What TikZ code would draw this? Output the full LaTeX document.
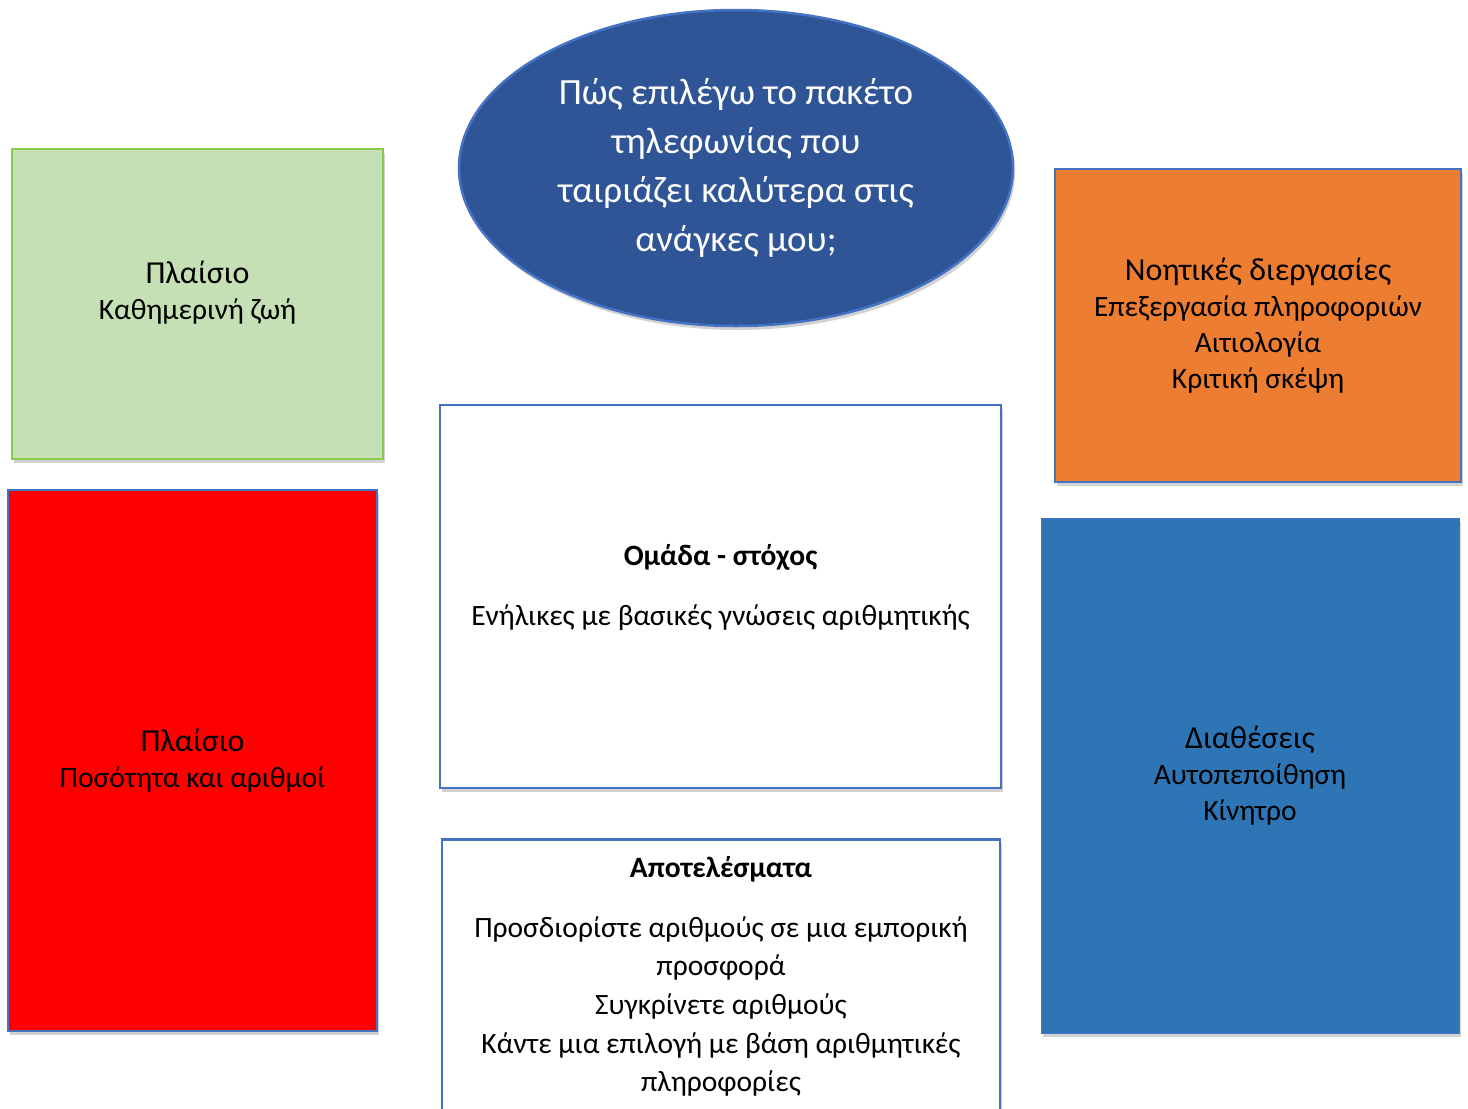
\documentclass[tikz,border=0pt]{standalone}
\usepackage{fontspec}
\setmainfont{Carlito}
\usepackage{tikz}
\usetikzlibrary{shapes.geometric, shadows, positioning}
\definecolor{edgeblue}{HTML}{4472C4}
\definecolor{ovalblue}{HTML}{2F5597}
\definecolor{leafgreen}{HTML}{C5E0B4}
\definecolor{leafedge}{HTML}{8CC850}
\definecolor{fireorange}{HTML}{ED7D31}
\definecolor{seablue}{HTML}{2E75B6}
\tikzstyle{shade}    = [drop shadow={shadow xshift=2pt, shadow yshift=-4pt, opacity=.25, fill=black!70}]
\tikzstyle{card}     = [rectangle, draw=edgeblue, line width=2.5pt, align=center, shade, font=\fontsize{29.5}{36}\selectfont]
\tikzstyle{plain}    = [rectangle, draw=edgeblue, line width=2.5pt, fill=white, align=center, shade, font=\fontsize{29.5}{38.7}\selectfont]
\tikzstyle{question} = [ellipse, draw=edgeblue, line width=2.5pt, fill=ovalblue, text=white, align=center, shade, font=\fontsize{37}{49}\selectfont]
\newcommand{\hd}[1]{{\fontsize{32}{38}\selectfont #1}}

\begin{document}
\begin{tikzpicture}[x=1pt, y=-1pt]
    \useasboundingbox (0,0) rectangle (1468,1109);
    \node (daily)   [card, fill=leafgreen, draw=leafedge, minimum width=371pt, minimum height=310pt, text depth=27pt] at (197.5,304) {\hd{Πλαίσιο}\\ Καθημερινή ζωή};
    \node (numbers) [card, fill=red, minimum width=369pt, minimum height=541pt] at (192.5,760.5) {\hd{Πλαίσιο}\\ Ποσότητα και αριθμοί};
    \node (ask)     [question, minimum width=554pt, minimum height=316pt] at (736,168) {Πώς επιλέγω το πακέτο\\ τηλεφωνίας που\\ ταιριάζει καλύτερα στις\\ ανάγκες μου;};
    \node (target)  [plain, minimum width=561pt, minimum height=383pt, text depth=23pt] at (720.5,596.5) {\textbf{Ομάδα - στόχος}\\[21pt] Ενήλικες με βασικές γνώσεις αριθμητικής};
    \node (results) [plain, minimum width=558pt, anchor=north, inner ysep=17pt, text depth=60pt] at (721,838) {\textbf{Αποτελέσματα}\\[21pt] Προσδιορίστε αριθμούς σε μια εμπορική\\ προσφορά\\ Συγκρίνετε αριθμούς\\ Κάντε μια επιλογή με βάση αριθμητικές\\ πληροφορίες};
    \node (mind)    [card, fill=fireorange, minimum width=406pt, minimum height=313pt] at (1258,325.5) {\hd{Νοητικές διεργασίες}\\ Επεξεργασία πληροφοριών\\ Αιτιολογία\\ Κριτική σκέψη};
    \node (mood)    [card, fill=seablue, line width=1pt, minimum width=418pt, minimum height=515pt] at (1250,775.5) {\hd{Διαθέσεις}\\ Αυτοπεποίθηση\\ Κίνητρο};
  \end{tikzpicture}
\end{document}
